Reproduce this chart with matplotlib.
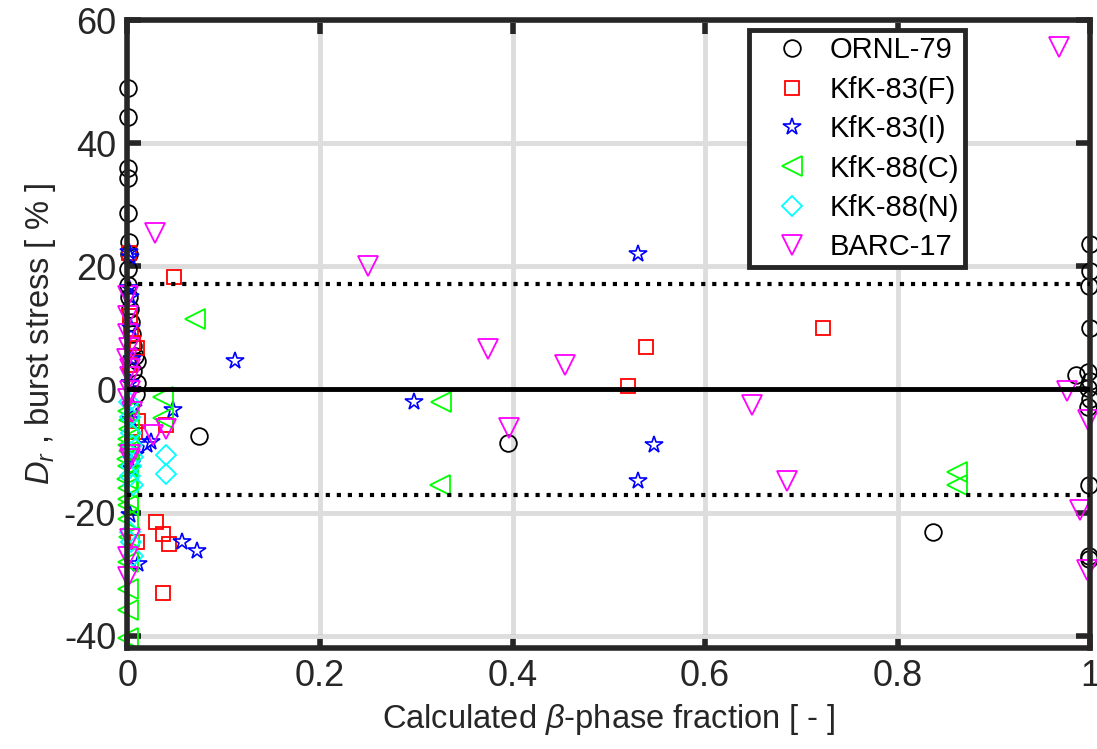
import numpy as np
import matplotlib
matplotlib.use('Agg')
import matplotlib.pyplot as plt

plt.rcParams['font.family'] = ['Liberation Sans', 'DejaVu Sans']
plt.rcParams['mathtext.fontset'] = 'custom'
plt.rcParams['mathtext.rm'] = 'Liberation Sans'
plt.rcParams['mathtext.it'] = 'Liberation Sans:italic'
plt.rcParams['axes.unicode_minus'] = False

# data: beta-phase fraction vs D_r [%]
ornl_x = [0.001, 0.001, 0.001, 0.001, 0.001, 0.002, 0.002, 0.001, 0.001, 0.002,
          0.003, 0.004, 0.005, 0.006, 0.008, 0.01, 0.006, 0.01, 0.009,
          0.075, 0.395, 0.837,
          1.0, 1.0, 0.999, 1.0, 0.985, 0.998, 1.0, 0.998, 1.0, 0.998, 0.999, 0.999, 0.999]
ornl_y = [49, 44.2, 36, 34.3, 28.6, 24, 22, 19.5, 17, 15,
          13, 11, 9, 7, 5.5, 4.6, 3, 1, -0.8,
          -7.5, -8.7, -23.2,
          23.7, 19.3, 16.8, 10, 2.4, 2.9, 1.3, 0.2, -1.5, -2.8, -15.5, -27, -27.6]

f83_x = [0.002, 0.003, 0.004, 0.006, 0.01, 0.003, 0.011, 0.008, 0.005, 0.01,
         0.04, 0.049, 0.03, 0.037, 0.043, 0.037, 0.52, 0.539, 0.722]
f83_y = [22.2, 12, 9.5, 7.5, 6.7, 4, -5.2, -6.9, -8.5, -24.8,
         -5.7, 18.3, -21.6, -23.5, -25.1, -33, 0.5, 6.9, 10]

i83_x = [0.002, 0.003, 0.002, 0.003, 0.004, 0.005, 0.003, 0.006, 0.004, 0.008,
         0.005, 0.003, 0.011, 0.02, 0.025, 0.048, 0.057, 0.072, 0.112, 0.298,
         0.53, 0.547, 0.53]
i83_y = [22.3, 21.5, 16.5, 15, 10, 5, 1, -3, -5, -10.6,
         -13, -20.4, -28.4, -9, -8.5, -3.3, -24.8, -26.2, 4.6, -2,
         22, -9, -14.9]

c88_x = [0.001, 0.002, 0.001, 0.001, 0.0, 0.001, 0.0, 0.001, 0.001, 0.001,
         0.001, 0.002, 0.001, 0.001, 0.001, 0.001, 0.002, 0.002,
         0.037, 0.037, 0.07, 0.325, 0.326, 0.861, 0.861]
c88_y = [-3.5, -6.4, -8, -9, -11.3, -12.5, -14.5, -16, -17.8, -18.8,
         -21, -24, -28, -32.5, -35.8, -40.4, -5, -10,
         -1.2, -4.7, 11.4, -15.5, -2.1, -13.4, -15.5]

n88_x = [0.002, 0.003, 0.004, 0.005, 0.006, 0.004, 0.003, 0.006, 0.003, 0.004, 0.006,
         0.04, 0.04]
n88_y = [-2, -4.5, -7, -9, -11, -12.5, -14, -15.5, -23.2, -24.8, -27,
         -10.6, -13.7]

barc_x = [0.001, 0.001, 0.002, 0.0, 0.003, 0.003, 0.003, 0.001, 0.005, 0.003,
          0.003, 0.003, 0.001, 0.001, 0.001,
          0.029, 0.25, 0.375, 0.455, 0.396, 0.649, 0.685, 0.04, 0.027,
          0.967, 0.976, 0.998, 0.989, 0.996]
barc_y = [15.2, 12, 6.7, 5, 3.4, 2.1, -0.3, -1.6, -3.6, -10.6,
          -11.3, -24.3, -27.3, -30.5, 9,
          25.5, 20.1, 6.5, 3.9, -6.2, -2.6, -14.9, -6.4, -7.4,
          55.7, -0.3, -4.9, -19.6, -29.4]

band = 17.2

fig = plt.figure(figsize=(10.97, 7.49), dpi=100)
ax = fig.add_axes([0.116, 0.135, 0.878, 0.838])

ax.plot(ornl_x, ornl_y, 'o', mfc='none', mec='k', ms=12, mew=1.3, clip_on=False, label='ORNL-79')
ax.plot(f83_x, f83_y, 's', mfc='none', mec='r', ms=10, mew=1.3, clip_on=False, label='KfK-83(F)')
ax.plot(i83_x, i83_y, '*', mfc='none', mec='b', ms=13, mew=1.2, clip_on=False, label='KfK-83(I)')
ax.plot(c88_x, c88_y, '<', mfc='none', mec='#00ff00', ms=14, mew=1.3, clip_on=False, label='KfK-88(C)')
ax.plot(n88_x, n88_y, 'D', mfc='none', mec='#00ffff', ms=10, mew=1.3, clip_on=False, label='KfK-88(N)')
ax.plot(barc_x, barc_y, 'v', mfc='none', mec='#ff00ff', ms=14, mew=1.3, clip_on=False, label='BARC-17')

ax.plot([0, 1], [0, 0], 'k-', lw=3.5, zorder=5)
ax.plot([0, 1], [band, band], 'k:', lw=3, zorder=5)
ax.plot([0, 1], [-band, -band], 'k:', lw=3, zorder=5)

ax.set_xlim(0, 1)
ax.set_ylim(-42, 60)
ax.set_xticks([0, 0.2, 0.4, 0.6, 0.8, 1])
ax.set_xticklabels(['0', '0.2', '0.4', '0.6', '0.8', '1'])
ax.set_yticks([-40, -20, 0, 20, 40, 60])
ax.grid(True, color='#dddddd', lw=3.5)
ax.set_axisbelow(True)
for s in ax.spines.values():
    s.set_linewidth(4)
    s.set_color('#262626')
ax.tick_params(direction='in', length=10, width=4, labelsize=26, colors='#262626',
               top=True, right=True, pad=8)
for lab in ax.get_xticklabels() + ax.get_yticklabels():
    lab.set_color('#262626')

ax.set_xlabel(r'Calculated $\beta$-phase fraction [ - ]', fontsize=23.5, color='#262626', labelpad=6)
ax.set_ylabel(r'$D_r$ , burst stress [ % ]', fontsize=23.5, color='#262626', labelpad=4)

leg = ax.legend(loc='upper right', bbox_to_anchor=(0.870, 0.984), borderaxespad=0,
                fontsize=21, fancybox=False, framealpha=1, edgecolor='#262626',
                labelspacing=0.39, handlelength=2.55, handletextpad=0.0, borderpad=0.21)
leg.get_frame().set_linewidth(3.5)

fig.savefig('out.png', dpi=100)
